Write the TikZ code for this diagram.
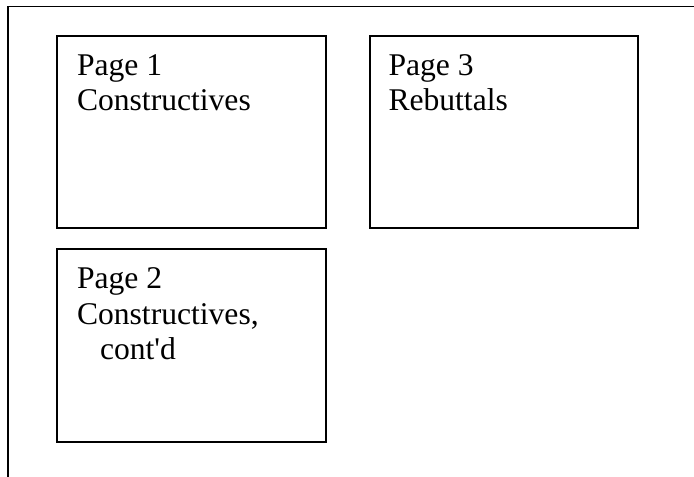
\documentclass[tikz,border=0pt]{standalone}
\usepackage{fontspec}
\setmainfont{Liberation Serif}
\newfontfamily\plainserif{Liberation Serif}
\begin{document}
\begin{tikzpicture}[x=0.75pt,y=-0.75pt,
  pagebox/.style={draw=black,line width=1.5pt,fill=none},
  frameline/.style={draw=black,line width=1.3pt},
  lbl/.style={anchor=base west,inner sep=0pt,outer sep=0pt,font=\plainserif\fontsize{23.7pt}{26.5pt}\selectfont}]
\useasboundingbox[fill=white] (0,0) rectangle (694,477);
% outer frame (top and left sides)
\coordinate (ftr) at (694,6.5);
\coordinate (ftl) at (8,6.5);
\coordinate (fbl) at (8,477);
\draw[frameline] (ftr) -- (ftl) -- (fbl);
% boxes
\node[pagebox,minimum width=269*0.75pt,minimum height=192*0.75pt,anchor=north west] (b1) at (56,35) {};
\node[pagebox,minimum width=268*0.75pt,minimum height=192*0.75pt,anchor=north west] (b3) at (368.5,35) {};
\node[pagebox,minimum width=269*0.75pt,minimum height=193*0.75pt,anchor=north west] (b2) at (56,248) {};
% labels
\node[lbl] (t1a) at (77,75.7) {Page 1};
\node[lbl] (t1b) at (77,111) {Constructives};
\node[lbl] (t3a) at (388.5,75.7) {Page 3};
\node[lbl] (t3b) at (388.5,111) {Rebuttals};
\node[lbl] (t2a) at (77,289) {Page 2};
\node[lbl] (t2b) at (77,324.5) {Constructives,};
\node[lbl] (t2c) at (100,360) {cont'd};
\end{tikzpicture}
\end{document}
